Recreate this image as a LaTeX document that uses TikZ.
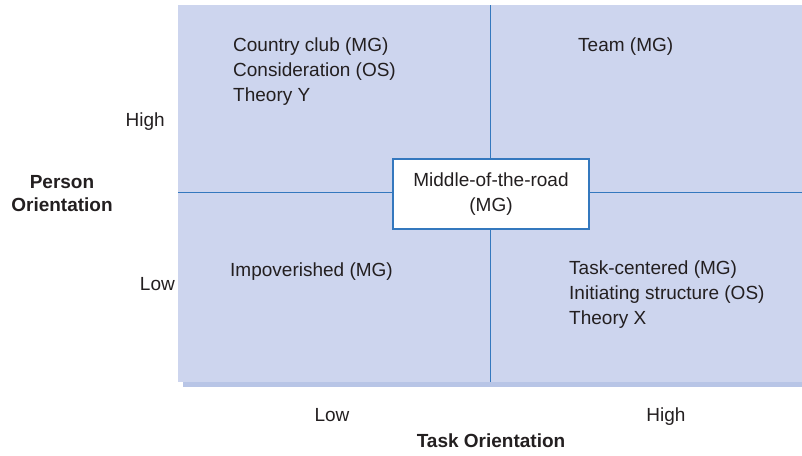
\documentclass[tikz,border=0pt]{standalone}
\usepackage{fontspec}
\setmainfont{Liberation Sans}
\definecolor{panelblue}{HTML}{CDD5EE}
\definecolor{shadowblue}{HTML}{B8C5E6}
\definecolor{lineblue}{HTML}{3478BE}
\definecolor{textgray}{HTML}{231F20}
\tikzset{
  lbl/.style={font=\fontsize{19}{25}\selectfont, text=textgray, inner sep=0pt, align=left},
  axislbl/.style={lbl, font=\bfseries\fontsize{19}{23}\selectfont, align=center},
  divider/.style={draw=lineblue, line width=1.5pt},
}

\begin{document}
\begin{tikzpicture}[x=1pt, y=-1pt]
\useasboundingbox (0,0) rectangle (802,455);
% grid panel with its shadow
\fill[shadowblue] (183,10) rectangle (807,387);
\fill[panelblue] (178,5) rectangle (802,382);
\coordinate (top) at (490.5,5);
\coordinate (bottom) at (490.5,382);
\coordinate (left) at (178,192.5);
\coordinate (right) at (802,192.5);
\draw[divider] (top) -- (bottom);
\draw[divider] (left) -- (right);
\node[lbl, draw=lineblue, fill=white, line width=1.2pt, minimum width=196pt, minimum height=70pt, align=center] (mid) at (491,194) {Middle-of-the-road\\(MG)};

% quadrant texts
\node[lbl, anchor=north west] (club) at (233,38) {Country club (MG)\\Consideration (OS)\\Theory Y};
\node[lbl, anchor=north west] (team) at (578,38) {Team (MG)};
\node[lbl, anchor=north west] (poor) at (230,263) {Impoverished (MG)};
\node[lbl, anchor=north west] (task) at (569,261) {Task-centered (MG)\\Initiating structure (OS)\\Theory X};

% axes
\node[lbl, anchor=base east] (yhigh) at (165,126) {High};
\node[lbl, anchor=base east] (ylow) at (175,290) {Low};
\node[axislbl] (ytitle) at (62,194) {Person\\Orientation};
\node[lbl, anchor=base] (xlow) at (332,421) {Low};
\node[lbl, anchor=base] (xhigh) at (666,421) {High};
\node[axislbl, anchor=base] (xtitle) at (491,447) {Task Orientation};
\end{tikzpicture}
\end{document}
